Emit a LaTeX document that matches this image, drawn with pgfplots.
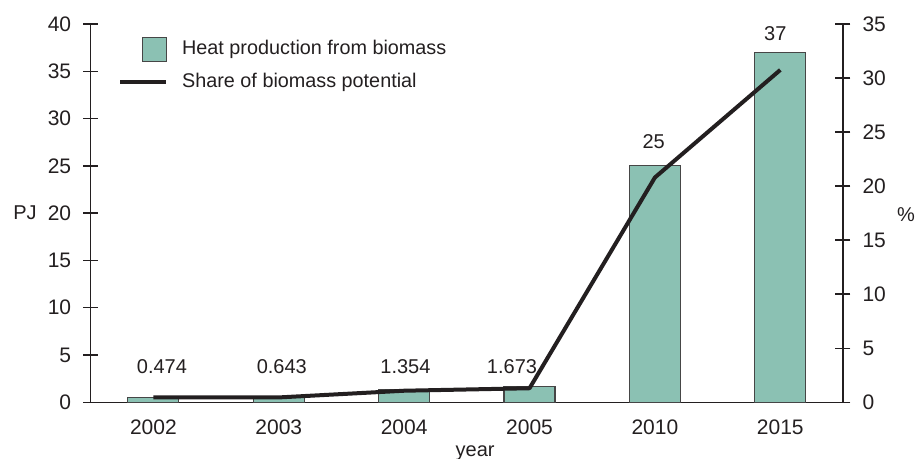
\documentclass[border=0pt]{standalone}
\usepackage{pgfplots}
\pgfplotsset{compat=1.18}
\usepackage{fontspec}
\setmainfont{Liberation Sans}
\definecolor{barfill}{RGB}{139,193,179}
\definecolor{baredge}{RGB}{70,70,70}
\definecolor{ink}{RGB}{35,31,32}
\begin{document}
\fontsize{10}{12}\selectfont
\begin{tikzpicture}
\useasboundingbox (-45.35pt,-28.35pt) rectangle (412.65pt,201.15pt);
\pgfplotsset{
  common/.style={
    scale only axis, width=376.15pt, height=189.15pt,
    at={(0,0)}, anchor=south west,
    xmin=-0.5, xmax=5.5,
    axis line style={-, ink, line width=0.75pt},
    tick align=center, major tick length=7.5pt,
    tick style={ink, line width=0.75pt},
    tick label style={font=\fontsize{10.5}{12}\selectfont, text=ink},
    /pgf/number format/assume math mode=true,
  }
}
\begin{axis}[
  common,
  ymin=0, ymax=40,
  axis y line*=left, axis x line*=bottom,
  xtick={0,...,5}, xticklabels={2002,2003,2004,2005,2010,2015},
  x tick style={draw=none},
  xticklabel style={yshift=2.25pt},
  ytick={0,5,...,40},
  yticklabel style={xshift=-2.5pt},
  ybar, bar width=25.5pt,
]
\addplot[fill=barfill, draw=baredge, line width=0.6pt] coordinates {
  (0,0.474) (1,0.643) (2,1.354) (3,1.673) (4,25) (5,37)
};
\draw[ink, line width=0.75pt] (axis cs:-0.5,0) -- ++(0pt,-5pt);
\node[text=ink] at (axis cs:0.068,3.8) {0.474};
\node[text=ink] at (axis cs:1.024,3.8) {0.643};
\node[text=ink] at (axis cs:2.01,3.8) {1.354};
\node[text=ink] at (axis cs:2.86,3.8) {1.673};
\node[text=ink] at (axis cs:3.99,27.6) {25};
\node[text=ink] at (axis cs:4.96,39.0) {37};
\end{axis}
\begin{axis}[
  common,
  ymin=0, ymax=35,
  axis y line*=right, axis x line=none,
  ytick={0,5,...,35},
  yticklabel style={xshift=2.5pt},
  legend style={draw=none, fill=none, at={(0.036,0.968)}, anchor=north west,
    inner sep=0pt, column sep=7pt, row sep=5pt,
    nodes={inner sep=0pt, text height=8pt, text depth=2.5pt, text=ink},
    font=\fontsize{9.9}{12}\selectfont},
  legend cell align=left,
]
\addlegendimage{legend image code/.code={\draw[fill=barfill, draw=baredge, line width=0.6pt] (11pt,-6pt) rectangle (23pt,6pt);}}
\addlegendentry{Heat production from biomass}
\addplot[ink, line width=2pt, line join=round,
  legend image code/.code={\draw[ink, line width=2pt] (0pt,0pt) -- (23pt,0pt);}]
  coordinates {(0,0.45) (1,0.45) (2,1.07) (3,1.3) (4,20.8) (5,30.75)};
\addlegendentry{Share of biomass potential}
\end{axis}
\node[text=ink] at (-32.85pt,94.65pt) {PJ};
\node[text=ink] at (407.65pt,93.65pt) {\%};
\node[text=ink, anchor=base] at (192.2pt,-27.35pt) {year};
\end{tikzpicture}
\end{document}
